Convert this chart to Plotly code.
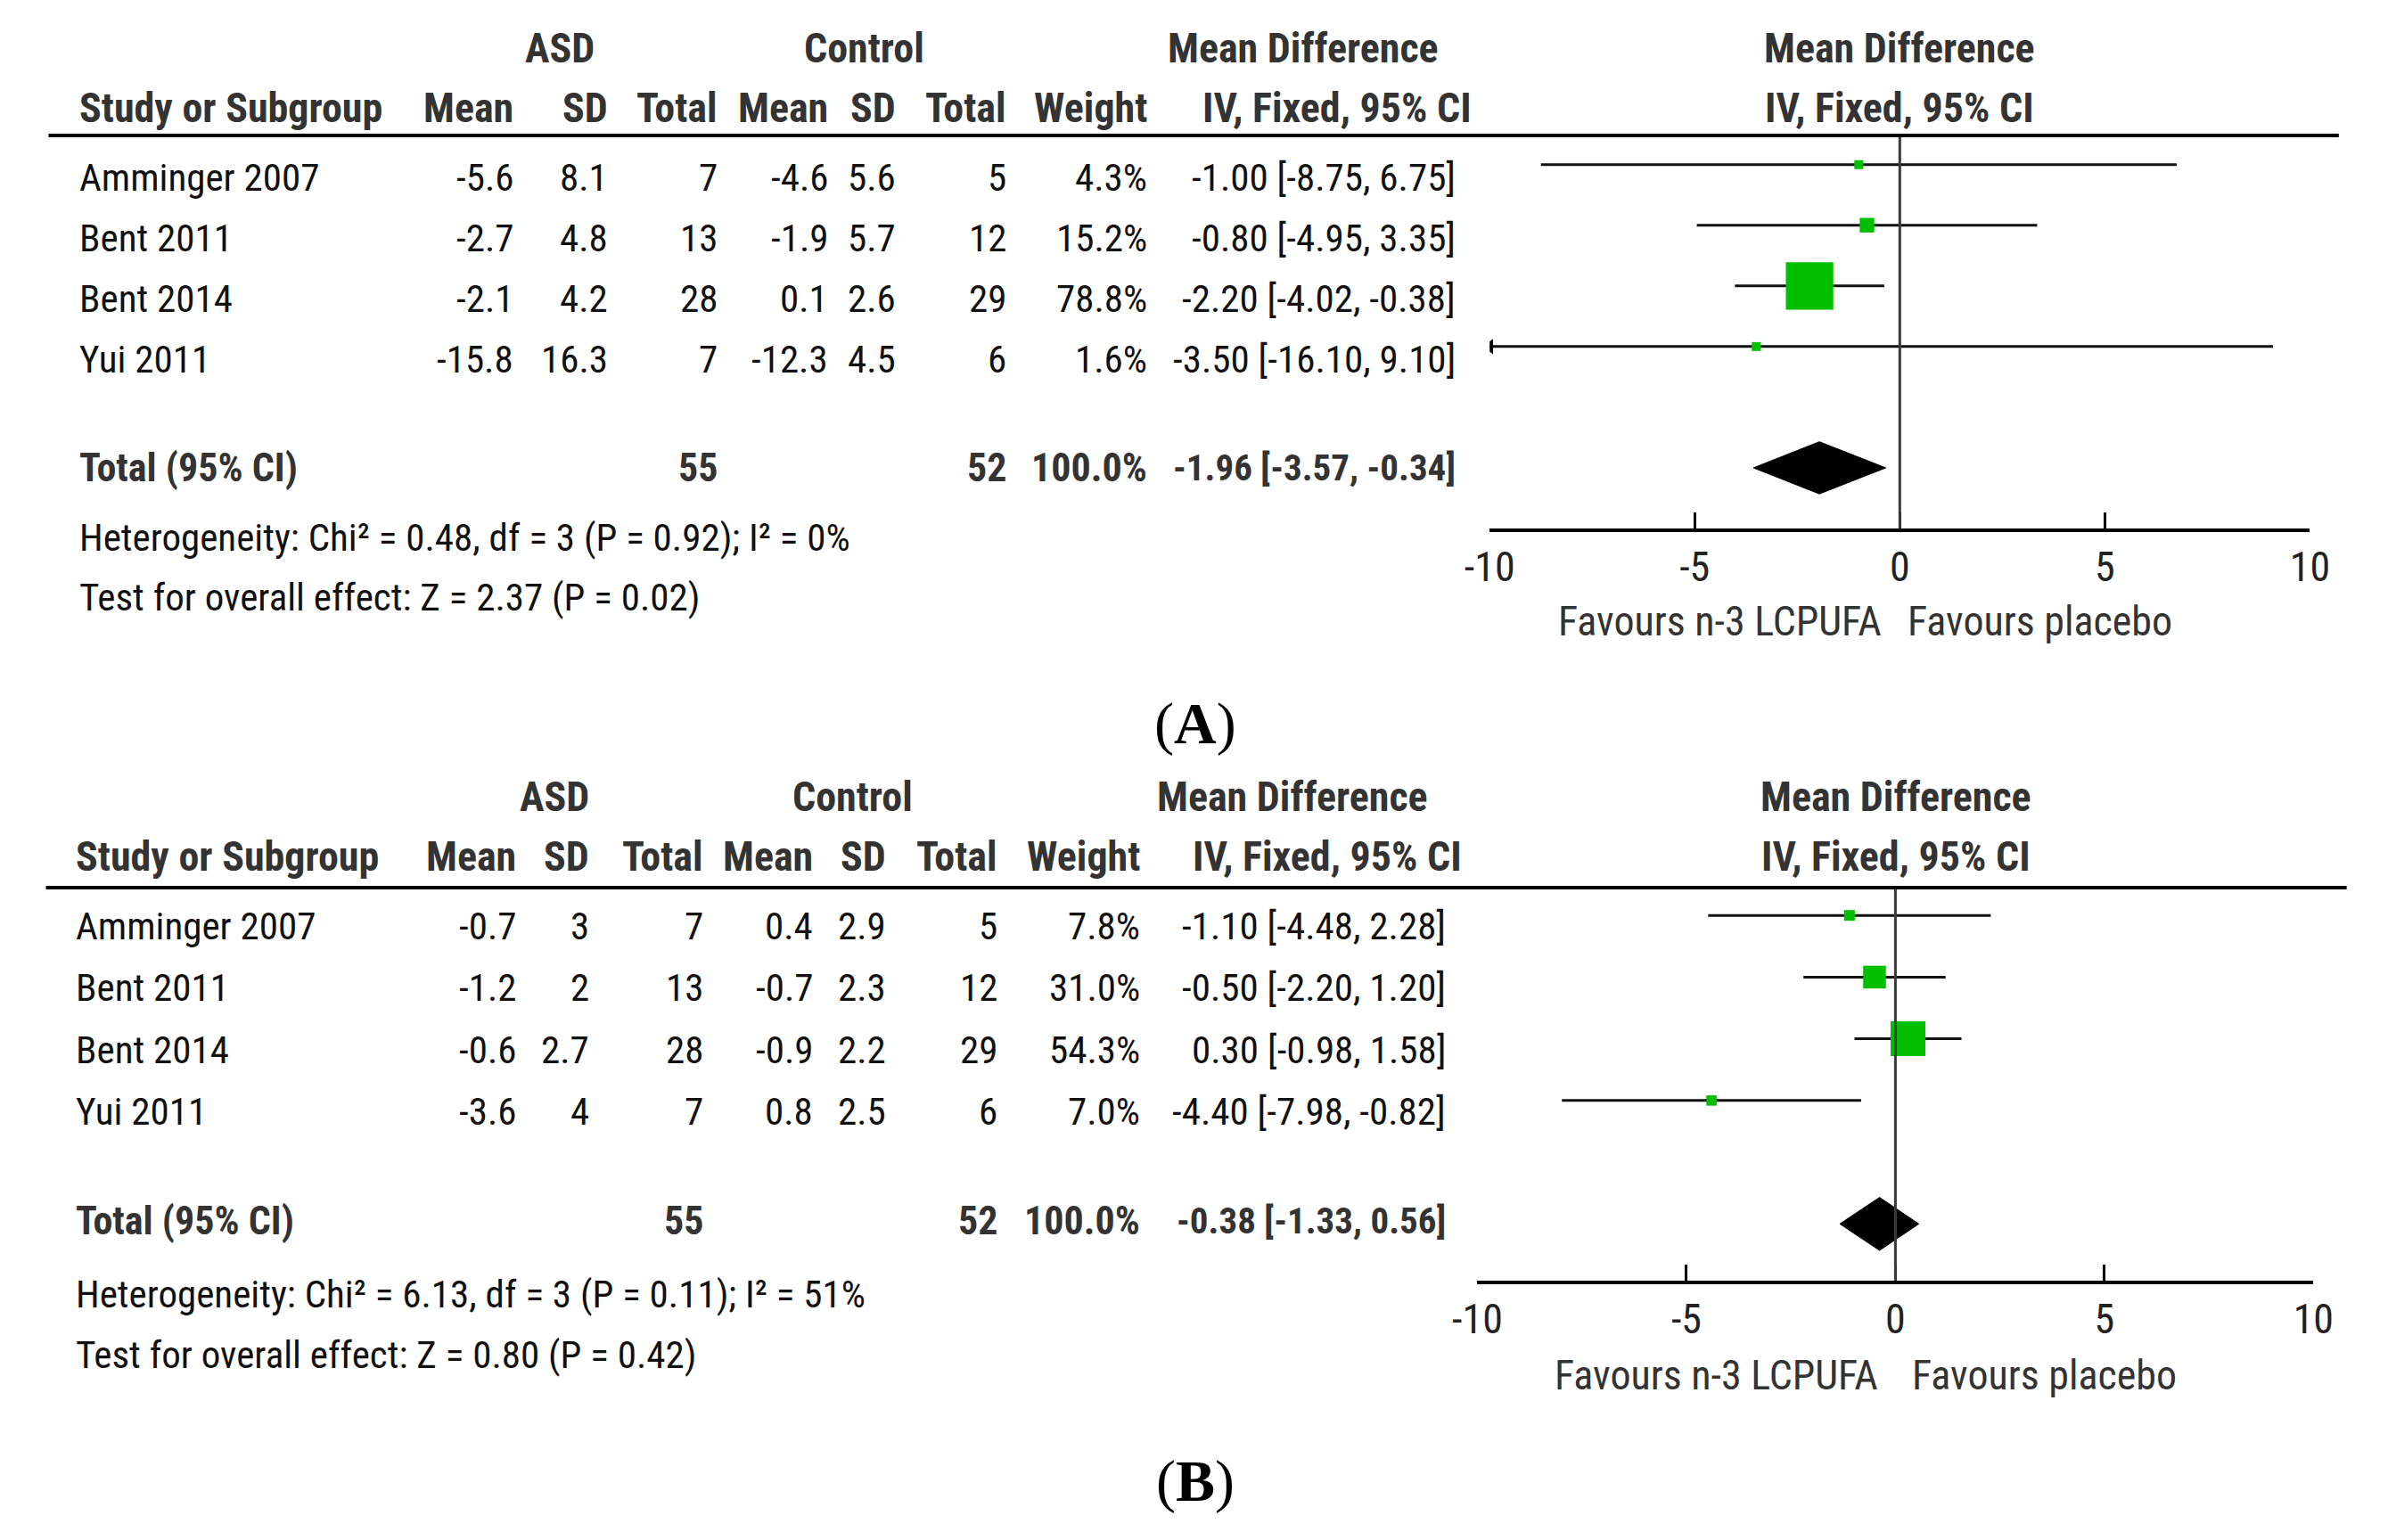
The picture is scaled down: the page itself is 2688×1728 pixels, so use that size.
import plotly.graph_objects as go

# ---------------- data ----------------
studies = ["Amminger 2007", "Bent 2011", "Bent 2014", "Yui 2011"]

# Panel A
asd_mean_A = [-5.6, -2.7, -2.1, -15.8]
asd_sd_A = [8.1, 4.8, 4.2, 16.3]
asd_n_A = [7, 13, 28, 7]
ctl_mean_A = [-4.6, -1.9, 0.1, -12.3]
ctl_sd_A = [5.6, 5.7, 2.6, 4.5]
ctl_n_A = [5, 12, 29, 6]
weight_A = [4.3, 15.2, 78.8, 1.6]
md_A = [-1.00, -0.80, -2.20, -3.50]
lo_A = [-8.75, -4.95, -4.02, -16.10]
hi_A = [6.75, 3.35, -0.38, 9.10]
total_n_A = [55, 52]
total_w_A = 100.0
total_md_A = [-1.96, -3.57, -0.34]
het_A = "Heterogeneity: Chi² = 0.48, df = 3 (P = 0.92); I² = 0%"
test_A = "Test for overall effect: Z = 2.37 (P = 0.02)"

# Panel B
asd_mean_B = [-0.7, -1.2, -0.6, -3.6]
asd_sd_B = [3, 2, 2.7, 4]
asd_n_B = [7, 13, 28, 7]
ctl_mean_B = [0.4, -0.7, -0.9, 0.8]
ctl_sd_B = [2.9, 2.3, 2.2, 2.5]
ctl_n_B = [5, 12, 29, 6]
weight_B = [7.8, 31.0, 54.3, 7.0]
md_B = [-1.10, -0.50, 0.30, -4.40]
lo_B = [-4.48, -2.20, -0.98, -7.98]
hi_B = [2.28, 1.20, 1.58, -0.82]
total_n_B = [55, 52]
total_w_B = 100.0
total_md_B = [-0.38, -1.33, 0.56]
het_B = "Heterogeneity: Chi² = 6.13, df = 3 (P = 0.11); I² = 51%"
test_B = "Test for overall effect: Z = 0.80 (P = 0.42)"

tick_vals = [-10, -5, 0, 5, 10]
tick_text = ["-10", "-5", "0", "5", "10"]
col_headers = ["Mean", "SD", "Total", "Mean", "SD", "Total", "Weight"]
favours_left = "Favours n-3 LCPUFA"
favours_right = "Favours placebo"

# ---------------- layout constants ----------------
W, H = 2688, 1728
FONT = "Liberation Sans Narrow, Arial Narrow, Roboto Condensed, DejaVu Sans Condensed, Liberation Sans, sans-serif"
FS_ROW = 43
FS_HDR = 46
FS_TOT = 44
FS_TOT_CI = 41
FS_AX = 46
TXT = "#111111"
HDR = "#333333"
GREEN = "#00BF00"


def px(x):
    return x / W


def py(y):
    return 1 - y / H


panels = [
    dict(key="A", xa="x", ya="y", xo="x3", data=dict(
        am=asd_mean_A, asd=asd_sd_A, an=asd_n_A, cm=ctl_mean_A, csd=ctl_sd_A, cn=ctl_n_A,
        w=weight_A, md=md_A, lo=lo_A, hi=hi_A, tn=total_n_A, tw=total_w_A, tmd=total_md_A,
        het=het_A, test=test_A),
        cols=[561, 669, 794, 920, 998, 1124, 1285], ci_right=1638, ci_hdr=1500, md_hdr=1462,
        asd_hdr=612, ctl_hdr=960, study_x=60, h1=54, h2=121, hline=152, axis=593,
        line_x=[27, 2646], xdom=[1675, 2613], yr=[6.0, -0.48], row_shift=-14, tot_shift=0,
        het_y=603, test_y=670, fav_y=697, fav_r=2125, fav_l=2151, forest_hdr=2144,
        label_y=812, label_x=1338),
    dict(key="B", xa="x2", ya="y2", xo="x4", data=dict(
        am=asd_mean_B, asd=asd_sd_B, an=asd_n_B, cm=ctl_mean_B, csd=ctl_sd_B, cn=ctl_n_B,
        w=weight_B, md=md_B, lo=lo_B, hi=hi_B, tn=total_n_B, tw=total_w_B, tmd=total_md_B,
        het=het_B, test=test_B),
        cols=[564, 647, 778, 903, 987, 1114, 1277], ci_right=1627, ci_hdr=1489, md_hdr=1449,
        asd_hdr=605, ctl_hdr=946, study_x=56, h1=894, h2=961, hline=996, axis=1437,
        line_x=[24, 2655], xdom=[1661, 2617], yr=[5.92, -0.45], row_shift=-12, tot_shift=3,
        het_y=1452, test_y=1520, fav_y=1543, fav_r=2121, fav_l=2156, forest_hdr=2140,
        label_y=1662, label_x=1338),
]

fig = go.Figure()
annotations = []
shapes = []
TOTAL_ROW = 5


def fmt(v):
    return f"{v:g}"


def ann(text, x, y, xanchor="right", bold=False, color=TXT, xref="paper", yref="paper",
        yshift=0, size=FS_ROW, family=FONT):
    annotations.append(dict(
        text=f"<b>{text}</b>" if bold else text, x=x, y=y, xref=xref, yref=yref,
        xanchor=xanchor, yanchor="middle", showarrow=False, yshift=yshift,
        font=dict(family=family, size=size, color=color)))


layout_axes = {}
for p in panels:
    d = p["data"]
    xa, ya, xo = p["xa"], p["ya"], p["xo"]
    xname = "xaxis" + xa[1:]
    yname = "yaxis" + ya[1:]
    oname = "xaxis" + xo[1:]
    rows = list(range(len(studies)))

    # CI lines (clipped to axis range)
    xs, ys = [], []
    for i in rows:
        xs += [max(d["lo"][i], -10), min(d["hi"][i], 10), None]
        ys += [i, i, None]
    fig.add_trace(go.Scatter(x=xs, y=ys, mode="lines", line=dict(color="#111111", width=3),
                             xaxis=xa, yaxis=ya, hoverinfo="skip", showlegend=False))
    # arrows for clipped CIs
    ax_, ay_ = [], []
    for i in rows:
        if d["lo"][i] < -10:
            ax_.append(-10)
            ay_.append(i)
    if ax_:
        fig.add_trace(go.Scatter(x=ax_, y=ay_, mode="markers",
                                 marker=dict(symbol="triangle-left", size=15, color="#000000"),
                                 xaxis=xa, yaxis=ya, hoverinfo="skip", showlegend=False))
    # weight boxes
    sizes = [max(10, 7.5 + 0.58 * w) for w in d["w"]]
    fig.add_trace(go.Scatter(x=d["md"], y=rows, mode="markers",
                             marker=dict(symbol="square", size=sizes, color=GREEN, opacity=1,
                                         line=dict(width=0)),
                             xaxis=xa, yaxis=ya, hoverinfo="skip", showlegend=False))
    # diamond
    tmd, tlo, thi = d["tmd"]
    hh = 0.43
    fig.add_trace(go.Scatter(x=[tlo, tmd, thi, tmd, tlo],
                             y=[TOTAL_ROW, TOTAL_ROW - hh, TOTAL_ROW, TOTAL_ROW + hh, TOTAL_ROW],
                             mode="lines", fill="toself", fillcolor="#000000",
                             line=dict(color="#000000", width=1),
                             xaxis=xa, yaxis=ya, hoverinfo="skip", showlegend=False))

    xdom = [px(p["xdom"][0]), px(p["xdom"][1])]
    ydom = [py(p["axis"]), py(p["hline"])]
    layout_axes[xname] = dict(domain=xdom, range=[-10, 10], anchor=ya, showline=True,
                              linecolor="#000000", linewidth=4, ticks="inside", ticklen=18,
                              tickwidth=3, tickcolor="#000000", tickvals=tick_vals,
                              ticktext=tick_text, showgrid=False, zeroline=False,
                              tickfont=dict(family=FONT, size=FS_AX, color="#222222"),
                              fixedrange=True)
    layout_axes[oname] = dict(domain=xdom, range=[-10, 10], anchor=ya, overlaying=xa,
                              showline=False, ticks="outside", ticklen=13, tickwidth=3,
                              tickcolor="#000000", tickvals=tick_vals, showticklabels=False,
                              showgrid=False, zeroline=False, fixedrange=True)
    layout_axes[yname] = dict(domain=ydom, range=p["yr"], visible=False, fixedrange=True)

    # zero line and header rule
    shapes.append(dict(type="line", xref=xa, yref=f"{ya} domain", x0=0, x1=0, y0=0, y1=1,
                       line=dict(color="#3a3a3a", width=3)))
    shapes.append(dict(type="line", xref="paper", yref="paper",
                       x0=px(p["line_x"][0]), x1=px(p["line_x"][1]),
                       y0=py(p["hline"]), y1=py(p["hline"]), line=dict(color="#000000", width=4)))

    # headers
    ann("ASD", px(p["asd_hdr"]), py(p["h1"]), "center", True, HDR, size=FS_HDR)
    ann("Control", px(p["ctl_hdr"]), py(p["h1"]), "center", True, HDR, size=FS_HDR)
    ann("Mean Difference", px(p["md_hdr"]), py(p["h1"]), "center", True, HDR, size=FS_HDR)
    ann("Mean Difference", px(p["forest_hdr"]), py(p["h1"]), "center", True, HDR, size=FS_HDR)
    ann("Study or Subgroup", px(p["study_x"]), py(p["h2"]), "left", True, HDR, size=FS_HDR)
    for h, cx in zip(col_headers, p["cols"]):
        ann(h, px(cx), py(p["h2"]), "right", True, HDR, size=FS_HDR)
    ann("IV, Fixed, 95% CI", px(p["ci_hdr"]), py(p["h2"]), "center", True, HDR, size=FS_HDR)
    ann("IV, Fixed, 95% CI", px(p["forest_hdr"]), py(p["h2"]), "center", True, HDR, size=FS_HDR)

    # study rows
    for i in rows:
        vals = [fmt(d["am"][i]), fmt(d["asd"][i]), str(d["an"][i]), fmt(d["cm"][i]),
                fmt(d["csd"][i]), str(d["cn"][i]), f"{d['w'][i]:.1f}%"]
        ann(studies[i], px(p["study_x"]), i, "left", yref=ya, yshift=p["row_shift"])
        for v, cx in zip(vals, p["cols"]):
            ann(v, px(cx), i, "right", yref=ya, yshift=p["row_shift"])
        ci = f"{d['md'][i]:.2f} [{d['lo'][i]:.2f}, {d['hi'][i]:.2f}]"
        ann(ci, px(p["ci_right"]), i, "right", yref=ya, yshift=p["row_shift"])

    # total row
    ts = p["tot_shift"]
    ann("Total (95% CI)", px(p["study_x"]), TOTAL_ROW, "left", True, HDR, yref=ya, yshift=ts, size=FS_TOT)
    ann(str(d["tn"][0]), px(p["cols"][2]), TOTAL_ROW, "right", True, HDR, yref=ya, yshift=ts, size=FS_TOT)
    ann(str(d["tn"][1]), px(p["cols"][5]), TOTAL_ROW, "right", True, HDR, yref=ya, yshift=ts, size=FS_TOT)
    ann(f"{d['tw']:.1f}%", px(p["cols"][6]), TOTAL_ROW, "right", True, HDR, yref=ya, yshift=ts, size=FS_TOT)
    ann(f"{tmd:.2f} [{tlo:.2f}, {thi:.2f}]", px(p["ci_right"]), TOTAL_ROW, "right", True, HDR,
        yref=ya, yshift=ts, size=FS_TOT_CI)

    # heterogeneity / overall effect
    ann(d["het"], px(p["study_x"]), py(p["het_y"]), "left")
    ann(d["test"], px(p["study_x"]), py(p["test_y"]), "left")

    # favours labels
    ann(favours_left, px(p["fav_r"]), py(p["fav_y"]), "right", color=HDR, size=FS_AX)
    ann(favours_right, px(p["fav_l"]), py(p["fav_y"]), "left", color=HDR, size=FS_AX)

    # panel label
    ann(f"(<b>{p['key']}</b>)", px(p["label_x"]), py(p["label_y"]), "center", color="#000000",
        size=66, family="Liberation Serif, Times New Roman, serif")

fig.update_layout(
    width=W, height=H, margin=dict(l=0, r=0, t=0, b=0),
    paper_bgcolor="#ffffff", plot_bgcolor="rgba(0,0,0,0)",
    showlegend=False, annotations=annotations, shapes=shapes, **layout_axes)

fig.write_html("out.html", config={"displayModeBar": False},
               post_script="document.body.style.margin='0';document.body.style.overflow='hidden';")
